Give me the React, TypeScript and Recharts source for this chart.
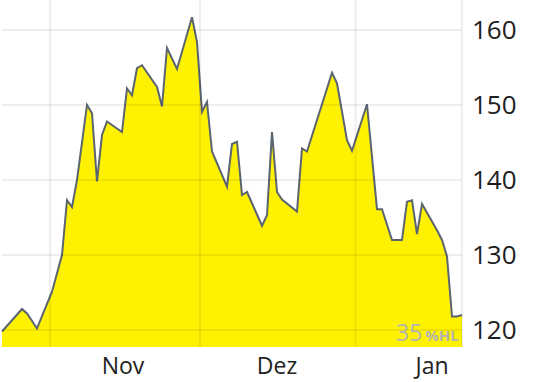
import React from 'react';
import { AreaChart, Area, XAxis, YAxis, ReferenceLine } from 'recharts';

// day offsets (from Oct 22) and closing prices
const days = [
  0, 4, 5, 7, 10, 12, 13, 14, 15, 17, 18, 19, 20, 21, 24, 25, 26, 27, 28, 31,
  32, 33, 35, 38, 39, 40, 41, 42, 45, 46, 47, 48, 49, 52, 53, 54, 55, 56, 59, 60,
  61, 66, 67, 69, 70, 73, 75, 76, 78, 80, 81, 82, 83, 84, 87, 88, 89, 90, 91, 92,
];
const prices = [
  119.8, 122.8, 122.2, 120.2, 125.1, 130.0, 137.3, 136.4, 140.0, 150.0, 148.9, 139.8, 146.0, 147.8, 146.4, 152.2, 151.3, 154.9, 155.3, 152.4,
  149.8, 157.6, 154.8, 161.7, 158.4, 149.1, 150.4, 143.8, 139.1, 144.8, 145.1, 138.0, 138.4, 133.9, 135.3, 146.4, 138.4, 137.4, 135.8, 144.2,
  143.8, 154.3, 152.9, 145.3, 143.9, 150.1, 136.1, 136.1, 132.0, 132.0, 137.1, 137.3, 132.8, 136.8, 133.3, 132.0, 129.8, 121.8, 121.8, 122.0,
];

const monthStarts = [9.6, 39.6, 70.7, 92];
const monthTicks = [24.2, 55, 86];
const monthLabels = ['Nov', 'Dez', 'Jan'];
const priceTicks = [120, 130, 140, 150, 160];

const data = days.map((t, i) => ({ t, price: prices[i] }));

const gridStroke = { stroke: '#000', strokeOpacity: 0.065, strokeWidth: 2 };

const App: React.FC = () => {
  return (
    <div style={{ position: 'absolute', left: 0, top: 0, width: 558, height: 382, fontFamily: '"Open Sans", sans-serif' }}>
      <AreaChart width={558} height={382} data={data} margin={{ top: 0, right: 0, left: 2, bottom: 0 }}>
        <XAxis
          dataKey="t"
          type="number"
          domain={[0, 92]}
          ticks={monthTicks}
          tickFormatter={(v) => monthLabels[monthTicks.indexOf(v)] ?? ''}
          axisLine={false}
          tickLine={false}
          tickSize={0}
          tickMargin={11}
          height={35}
          interval={0}
          tick={{ fill: '#222', fontSize: 23, fontFamily: '"Open Sans", sans-serif' }}
        />
        <YAxis
          orientation="right"
          type="number"
          domain={[117.73, 164]}
          ticks={priceTicks}
          axisLine={false}
          tickLine={false}
          tickSize={0}
          tickMargin={10}
          width={96}
          interval={0}
          tick={{ fill: '#1e1e1e', fontSize: 26, fontFamily: '"Open Sans", sans-serif' }}
        />
        <Area
          type="linear"
          dataKey="price"
          stroke="#5b6570"
          strokeWidth={2}
          fill="#fff200"
          fillOpacity={1}
          isAnimationActive={false}
          dot={false}
          activeDot={false}
        />
        {priceTicks.map((v) => (
          <ReferenceLine key={`h${v}`} y={v} {...gridStroke} />
        ))}
        {monthStarts.map((v) => (
          <ReferenceLine key={`v${v}`} x={v} {...gridStroke} />
        ))}
      </AreaChart>
      <div
        style={{
          position: 'absolute',
          left: 396,
          top: 317,
          color: '#b3b3b3',
          whiteSpace: 'nowrap',
          lineHeight: '30px',
        }}
      >
        <span style={{ fontSize: 23 }}>35</span>
        <span style={{ fontSize: 15, fontWeight: 700, marginLeft: 3 }}>%HL</span>
      </div>
    </div>
  );
};

export default App;
